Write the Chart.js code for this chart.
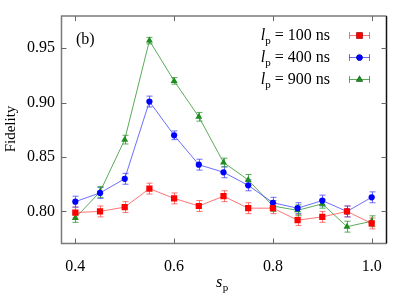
<!DOCTYPE html>
<html>
<head>
<meta charset="utf-8">
<script src="https://cdn.jsdelivr.net/npm/chart.js@4"></script>
<style>
  html, body { margin: 0; padding: 0; background: #fff; }
  canvas { display: block; }
</style>
</head>
<body>
<canvas id="fidelityChart" width="407" height="305"></canvas>
<script>
// s_p values along the x axis
const sp = [0.4, 0.45, 0.5, 0.55, 0.6, 0.65, 0.7, 0.75, 0.8, 0.85, 0.9, 0.95, 1.0];

// Fidelity for each pulse length
const fid100 = [0.799, 0.800, 0.804, 0.821, 0.812, 0.805, 0.814, 0.803, 0.803, 0.792, 0.795, 0.800, 0.789];
const fid400 = [0.809, 0.817, 0.830, 0.901, 0.870, 0.843, 0.836, 0.824, 0.808, 0.803, 0.810, 0.800, 0.813];
const fid900 = [0.794, 0.818, 0.866, 0.957, 0.920, 0.887, 0.845, 0.829, 0.805, 0.801, 0.807, 0.786, 0.791];

// error bars (half widths)
const err100 = [0.005, 0.005, 0.005, 0.005, 0.005, 0.005, 0.005, 0.005, 0.005, 0.005, 0.005, 0.005, 0.005];
const err400 = [0.005, 0.005, 0.005, 0.005, 0.004, 0.005, 0.005, 0.005, 0.005, 0.005, 0.005, 0.005, 0.005];
const err900 = [0.004, 0.005, 0.004, 0.003, 0.003, 0.004, 0.004, 0.005, 0.005, 0.005, 0.004, 0.005, 0.005];

const legendLabels = ["100 ns", "400 ns", "900 ns"];

// tick labels
const xTicks = [0.4, 0.6, 0.8, 1.0];
const xTickLabels = ["0.4", "0.6", "0.8", "1.0"];
const yTicks = [0.80, 0.85, 0.90, 0.95];
const yTickLabels = ["0.80", "0.85", "0.90", "0.95"];

const serif = '"Liberation Serif", "DejaVu Serif", serif';

const styles = [
  { marker: "#ff0000", line: "rgba(255,70,70,0.75)", shape: "rect", radius: 4.4 },
  { marker: "#0000ff", line: "rgba(60,60,255,0.75)", shape: "circle", radius: 3.1 },
  { marker: "#1e8c1e", line: "rgba(50,150,50,0.8)", shape: "triangle", radius: 4 },
];
const seriesVals = [fid100, fid400, fid900];
const seriesErr = [err100, err400, err900];

// error bars behind the markers
const errorBars = {
  id: "errorBars",
  beforeDatasetsDraw(chart) {
    const ctx = chart.ctx;
    const xs = chart.scales.x;
    const ys = chart.scales.y;
    ctx.save();
    ctx.lineWidth = 1;
    seriesVals.forEach((vals, i) => {
      ctx.strokeStyle = styles[i].line;
      vals.forEach((v, j) => {
        const px = Math.round(xs.getPixelForValue(sp[j])) + 0.5;
        const top = ys.getPixelForValue(v + seriesErr[i][j]);
        const bot = ys.getPixelForValue(v - seriesErr[i][j]);
        ctx.beginPath();
        ctx.moveTo(px, top);
        ctx.lineTo(px, bot);
        ctx.moveTo(px - 3, top);
        ctx.lineTo(px + 3, top);
        ctx.moveTo(px - 3, bot);
        ctx.lineTo(px + 3, bot);
        ctx.stroke();
      });
    });
    ctx.restore();
  },
};

// frame, inward ticks, axis titles, legend, panel label
const decorations = {
  id: "decorations",
  afterDraw(chart) {
    const ctx = chart.ctx;
    const a = chart.chartArea;
    const xs = chart.scales.x;
    const ys = chart.scales.y;
    const L = a.left + 0.5, R = a.right + 0.5, T = a.top + 0.5, B = a.bottom + 0.5;
    ctx.save();
    ctx.lineWidth = 1.5;
    ctx.strokeStyle = "#7a7a7a";
    ctx.beginPath();
    ctx.moveTo(R, T); ctx.lineTo(L, T); ctx.lineTo(L, B); ctx.lineTo(R, B);
    ctx.stroke();
    ctx.strokeStyle = "#111";
    ctx.beginPath();
    ctx.moveTo(R, T); ctx.lineTo(R, B);
    ctx.stroke();

    ctx.lineWidth = 1;
    ctx.strokeStyle = "#666";
    xTicks.forEach((t) => {
      const px = Math.round(xs.getPixelForValue(t)) + 0.5;
      ctx.beginPath();
      ctx.moveTo(px, B); ctx.lineTo(px, B - 5);
      ctx.moveTo(px, T); ctx.lineTo(px, T + 5);
      ctx.stroke();
    });
    yTicks.forEach((t) => {
      const py = Math.round(ys.getPixelForValue(t)) + 0.5;
      ctx.beginPath();
      ctx.moveTo(L, py); ctx.lineTo(L + 5, py);
      ctx.moveTo(R, py); ctx.lineTo(R - 5, py);
      ctx.stroke();
    });

    ctx.fillStyle = "#000";
    ctx.textBaseline = "alphabetic";

    // y title
    ctx.save();
    ctx.translate(15, 129);
    ctx.rotate(-Math.PI / 2);
    ctx.font = "15px " + serif;
    ctx.textAlign = "center";
    ctx.fillText("Fidelity", 0, 0);
    ctx.restore();

    // x title s_p
    ctx.textAlign = "left";
    ctx.font = "italic 16px " + serif;
    ctx.fillText("s", 216, 287);
    const sw = ctx.measureText("s").width;
    ctx.font = "11px " + serif;
    ctx.fillText("p", 216 + sw + 0.5, 291);

    // panel label
    ctx.font = "16px " + serif;
    ctx.fillText("(b)", 76, 44);

    // legend
    legendLabels.forEach((lab, i) => {
      const y = 34.5 + i * 22.3;
      const base = y + 5;
      const rest = " = " + lab;
      ctx.font = "16px " + serif;
      const restW = ctx.measureText(rest).width;
      ctx.font = "11px " + serif;
      const pW = ctx.measureText("p").width;
      ctx.font = "italic 16px " + serif;
      const lW = ctx.measureText("l").width;
      const right = 330;
      let x = right - restW - pW - lW;
      ctx.fillText("l", x, base);
      x += lW;
      ctx.font = "11px " + serif;
      ctx.fillText("p", x, base + 4);
      x += pW;
      ctx.font = "16px " + serif;
      ctx.fillText(rest, x, base);

      const st = styles[i];
      const yy = Math.round(y) + 0.5;
      ctx.strokeStyle = st.line;
      ctx.beginPath();
      ctx.moveTo(349, yy); ctx.lineTo(370, yy);
      ctx.moveTo(349.5, yy - 3.5); ctx.lineTo(349.5, yy + 3.5);
      ctx.moveTo(369.5, yy - 3.5); ctx.lineTo(369.5, yy + 3.5);
      ctx.stroke();
      Chart.helpers.drawPoint(ctx, {
        pointStyle: st.shape, radius: st.radius, borderWidth: 0, rotation: 0,
      }, 359.5, yy);
      ctx.fillStyle = st.marker;
      ctx.fill();
      ctx.fillStyle = "#000";
    });
    ctx.restore();
  },
};

const ctx = document.getElementById("fidelityChart").getContext("2d");
new Chart(ctx, {
  type: "line",
  data: {
    datasets: seriesVals.map((vals, i) => ({
      label: legendLabels[i],
      data: vals.map((v, j) => ({ x: sp[j], y: v })),
      borderColor: styles[i].line,
      borderWidth: 1,
      backgroundColor: styles[i].marker,
      pointBackgroundColor: styles[i].marker,
      pointBorderColor: styles[i].marker,
      pointBorderWidth: 0,
      pointStyle: styles[i].shape,
      pointRadius: styles[i].radius,
      tension: 0,
    })),
  },
  options: {
    responsive: false,
    animation: false,
    devicePixelRatio: 1,
    layout: { padding: { top: 15, right: 21, left: 0, bottom: 0 } },
    plugins: { legend: { display: false }, tooltip: { enabled: false } },
    scales: {
      x: {
        type: "linear",
        min: 0.371,
        max: 1.029,
        grid: { display: false, drawTicks: false },
        border: { display: false },
        afterBuildTicks: (scale) => { scale.ticks = xTicks.map((v) => ({ value: v })); },
        afterFit: (scale) => { scale.height = 62; },
        ticks: {
          padding: 14,
          color: "#000",
          font: { family: serif, size: 16 },
          maxRotation: 0,
          callback: (v) => xTickLabels[xTicks.indexOf(v)],
        },
      },
      y: {
        min: 0.771,
        max: 0.980,
        grid: { display: false, drawTicks: false },
        border: { display: false },
        afterBuildTicks: (scale) => { scale.ticks = yTicks.map((v) => ({ value: v })); },
        afterFit: (scale) => { scale.width = 61; },
        ticks: {
          padding: 6,
          color: "#000",
          font: { family: serif, size: 16 },
          callback: (v) => yTickLabels[yTicks.indexOf(v)],
        },
      },
    },
  },
  plugins: [errorBars, decorations],
});
</script>
</body>
</html>
